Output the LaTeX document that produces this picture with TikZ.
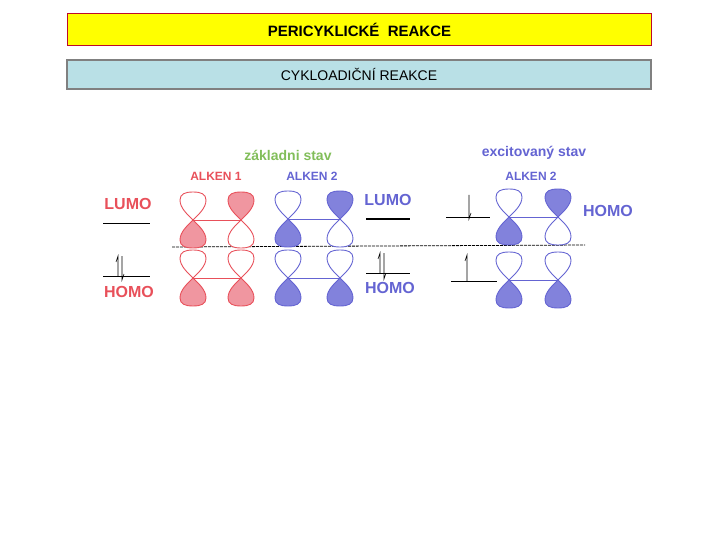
\documentclass[tikz,border=0pt]{standalone}
\usepackage{fontspec}
\setmainfont{Liberation Sans}
\usetikzlibrary{arrows.meta}
\definecolor{redorb}{RGB}{232,80,90}
\definecolor{redfill}{RGB}{240,150,160}
\definecolor{blueorb}{RGB}{100,100,210}
\definecolor{bluefill}{RGB}{130,130,220}
\definecolor{greentxt}{RGB}{130,190,90}
\definecolor{headbg}{RGB}{255,255,0}
\definecolor{headline}{RGB}{190,10,40}
\definecolor{subbg}{RGB}{185,224,230}

% one lobe, pointing up from the origin
\tikzset{
  lobe/.pic={\draw[pic actions] (0,0) .. controls (-6,-6) and (-13,-12) .. (-13,-20)
      .. controls (-13,-26) and (-8,-28) .. (0,-28)
      .. controls (8,-28) and (13,-26) .. (13,-20)
      .. controls (13,-12) and (6,-6) .. (0,0);},
  orb/.style={line width=0.9pt},
  level/.style={line width=0.7pt},
  spin/.style={line width=0.6pt}
}
% p orbital: x, y, colour, fill, 1 = top filled / 0 = bottom filled
\newcommand\porb[5]{%
  \ifnum#5=1
    \pic[orb,draw=#3,fill=#4] at (#1,#2) {lobe};
    \pic[orb,draw=#3,fill=white,yscale=-1] at (#1,#2) {lobe};
  \else
    \pic[orb,draw=#3,fill=white] at (#1,#2) {lobe};
    \pic[orb,draw=#3,fill=#4,yscale=-1] at (#1,#2) {lobe};
  \fi}

\begin{document}
\begin{tikzpicture}[x=1pt,y=-1pt]
\useasboundingbox (0,0) rectangle (720,540);

% headings
\node[draw=headline,line width=1.5pt,fill=headbg,minimum width=584pt,minimum height=32pt,font=\bfseries\fontsize{15}{17}\selectfont] (title) at (359.5,29.5) {PERICYKLICKÉ\ \ REAKCE};
\node[draw=gray,line width=1.2pt,fill=subbg,minimum width=584pt,minimum height=29pt,font=\fontsize{14}{16}\selectfont] (sub) at (359,74.5) {CYKLOADIČNÍ REAKCE};

% captions
\node[text=greentxt,font=\bfseries\fontsize{14}{16}\selectfont] (gs) at (288,155) {základni stav};
\node[text=redorb,font=\bfseries\fontsize{12}{14}\selectfont] (a1) at (216,176) {ALKEN 1};
\node[text=blueorb,font=\bfseries\fontsize{12}{14}\selectfont] (a2) at (312,176) {ALKEN 2};
\node[text=blueorb,font=\bfseries\fontsize{14}{16}\selectfont] (es) at (534,153) {excitovaný stav};
\node[text=blueorb,font=\bfseries\fontsize{12}{14}\selectfont] (a3) at (531,176) {ALKEN 2};

\node[text=redorb,font=\bfseries\fontsize{16}{18}\selectfont] (l1) at (128,204) {LUMO};
\node[text=redorb,font=\bfseries\fontsize{16}{18}\selectfont] (h1) at (129,292) {HOMO};
\node[text=blueorb,font=\bfseries\fontsize{16}{18}\selectfont] (l2) at (388,200) {LUMO};
\node[text=blueorb,font=\bfseries\fontsize{16}{18}\selectfont] (h2) at (390,288) {HOMO};
\node[text=blueorb,font=\bfseries\fontsize{16}{18}\selectfont] (h3) at (608,211) {HOMO};

% divider
\draw[line width=0.8pt,dash pattern=on 3pt off 1pt] (172,247) -- (585,245);

% energy levels
\draw[level] (103,223) -- (150,223);
\draw[level] (103,276) -- (150,276);
\draw[spin] (118,276) -- (118,256) -- (116,262);
\draw[spin] (122,256) -- (122,280) -- (124,274);
\draw[level,line width=1.2pt] (366,219) -- (410,219);
\draw[level] (366,273) -- (410,273);
\draw[spin] (380,273) -- (380,253) -- (378,259);
\draw[spin] (384,253) -- (384,279) -- (386,273);
\draw[level] (446,217) -- (490,217);
\draw[spin] (469,195) -- (469,219) -- (471,213);
\draw[level] (451,281) -- (497,281);
\draw[spin] (467,281) -- (467,255) -- (465,261);

% orbitals, upper row
\draw[orb,redorb] (193,220) -- (241,220);
\porb{193}{220}{redorb}{redfill}{0}
\porb{241}{220}{redorb}{redfill}{1}
\draw[orb,blueorb] (288,219) -- (340,219);
\porb{288}{219}{blueorb}{bluefill}{0}
\porb{340}{219}{blueorb}{bluefill}{1}
\draw[orb,blueorb] (509,217) -- (558,217);
\porb{509}{217}{blueorb}{bluefill}{0}
\porb{558}{217}{blueorb}{bluefill}{1}

% orbitals, lower row
\draw[orb,redorb] (193,278) -- (241,278);
\porb{193}{278}{redorb}{redfill}{0}
\porb{241}{278}{redorb}{redfill}{0}
\draw[orb,blueorb] (288,278) -- (340,278);
\porb{288}{278}{blueorb}{bluefill}{0}
\porb{340}{278}{blueorb}{bluefill}{0}
\draw[orb,blueorb] (509,280) -- (558,280);
\porb{509}{280}{blueorb}{bluefill}{0}
\porb{558}{280}{blueorb}{bluefill}{0}
\end{tikzpicture}
\end{document}
